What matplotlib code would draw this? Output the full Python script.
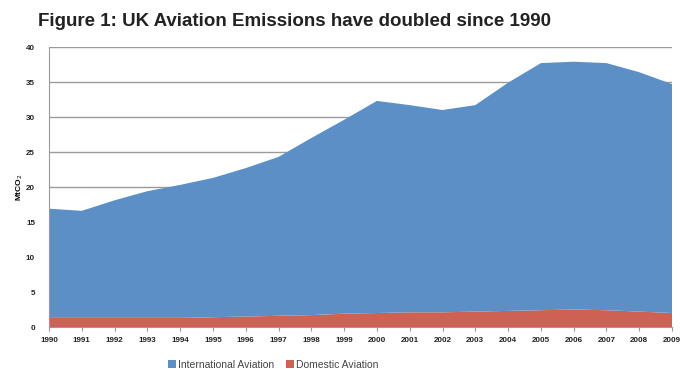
import matplotlib
matplotlib.use('Agg')
import matplotlib.pyplot as plt

years = list(range(1990, 2010))
# total emissions (top of stack) and domestic part, MtCO2
total = [16.9, 16.6, 18.1, 19.4, 20.3, 21.3, 22.7, 24.3, 27.0, 29.6,
         32.3, 31.7, 31.0, 31.7, 34.9, 37.7, 37.9, 37.7, 36.4, 34.7]
domestic = [1.3, 1.3, 1.3, 1.3, 1.3, 1.4, 1.5, 1.6, 1.7, 1.9,
            2.0, 2.1, 2.1, 2.2, 2.3, 2.4, 2.5, 2.4, 2.2, 2.0]
international = [t - d for t, d in zip(total, domestic)]

labels = ['International Aviation', 'Domestic Aviation']
blue = '#5b8fc6'
red = '#cd6154'

plt.rcParams['font.family'] = ['Liberation Sans', 'DejaVu Sans']

fig = plt.figure(figsize=(6.83, 3.69), dpi=100)
ax = fig.add_axes([0.0717, 0.1138, 0.9123, 0.7588])

ax.stackplot(years, domestic, international, colors=[red, blue], labels=labels[::-1])

ax.set_xlim(1990, 2009)
ax.set_ylim(0, 40)
ax.set_yticks(range(0, 41, 5))
ax.set_xticks(years)
ax.set_xticklabels([str(y) for y in years], fontsize=5.8, fontweight='bold', color='#222222')
ax.tick_params(axis='y', labelsize=5.8, length=0, pad=10, labelcolor='#222222')
ax.tick_params(axis='x', length=3, color='#999999', pad=4)
for lab in ax.get_yticklabels():
    lab.set_fontweight('bold')
ax.grid(axis='y', color='#9a9a9a', linewidth=1)
ax.set_axisbelow(True)
for s in ['top', 'right']:
    ax.spines[s].set_visible(False)
ax.spines['left'].set_color('#999999')
ax.spines['bottom'].set_color('#999999')

ax.set_ylabel('MtCO$_2$', fontsize=6, fontweight='bold', labelpad=1)

fig.text(0.056, 0.942, 'Figure 1: UK Aviation Emissions have doubled since 1990',
         fontsize=13.5, fontweight='bold', color='#222222', va='center')

handles, labs = ax.get_legend_handles_labels()
leg = fig.legend(handles[::-1], labs[::-1], loc='center', bbox_to_anchor=(0.40, 0.012),
                 ncol=2, frameon=False, fontsize=7.5, handlelength=0.7, handleheight=0.7,
                 handletextpad=0.2, columnspacing=1.2, labelcolor='#444444')

fig.savefig('out.png', dpi=100)
